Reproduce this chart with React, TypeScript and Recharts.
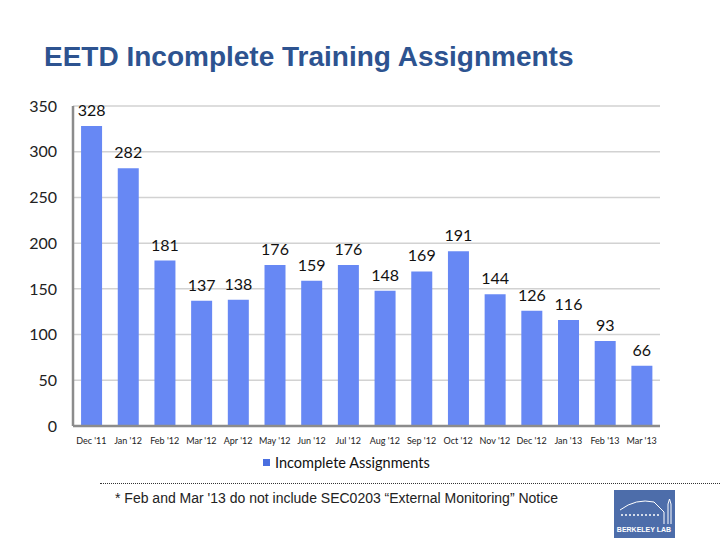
import React from "react";
import { BarChart, Bar, XAxis, YAxis, CartesianGrid, LabelList } from "recharts";

const months = ["Dec '11", "Jan '12", "Feb '12", "Mar '12", "Apr '12", "May '12", "Jun '12", "Jul '12", "Aug '12", "Sep '12", "Oct '12", "Nov '12", "Dec '12", "Jan '13", "Feb '13", "Mar '13"];
const incomplete = [328, 282, 181, 137, 138, 176, 159, 176, 148, 169, 191, 144, 126, 116, 93, 66];
const yTicks = [0, 50, 100, 150, 200, 250, 300, 350];

const data = months.map((m, i) => ({ month: m, value: incomplete[i] }));

const BAR = "#6788F4";
const FONT = "Lato, 'Open Sans', sans-serif";

export default function App() {
  return (
    <div style={{ position: "absolute", left: 0, top: 0, width: 720, height: 540, background: "#fff", overflow: "hidden" }}>
      <div style={{ position: "absolute", left: 44, top: 40, fontFamily: "'Liberation Sans', Arial, sans-serif", fontWeight: "bold", fontSize: 28, lineHeight: "34px", color: "#2D5390", whiteSpace: "nowrap" }}>
        EETD Incomplete Training Assignments
      </div>
      <div style={{ position: "absolute", left: 0, top: 0 }}>
        <BarChart width={720} height={540} data={data} margin={{ top: 106, right: 60, bottom: 94, left: 13 }} barCategoryGap="22%">
          <CartesianGrid vertical={false} stroke="#d2d2d2" strokeWidth={1.5} />
          <XAxis
            dataKey="month"
            height={20}
            tickLine={false}
            axisLine={{ stroke: "#8c8c8c", strokeWidth: 2.5 }}
            tick={{ fontSize: 9, fill: "#222", fontFamily: FONT }}
            interval={0}
            tickMargin={6}
          />
          <YAxis
            width={60}
            domain={[0, 350]}
            ticks={yTicks}
            tickLine={false}
            axisLine={{ stroke: "#8c8c8c", strokeWidth: 2.5 }}
            tick={{ fontSize: 16, fill: "#222", fontFamily: FONT }}
            tickMargin={10}
          />
          <Bar dataKey="value" fill={BAR} isAnimationActive={false}>
            <LabelList dataKey="value" position="top" offset={10} style={{ fontSize: 16, fill: "#111", fontFamily: FONT }} />
          </Bar>
        </BarChart>
      </div>
      <div style={{ position: "absolute", left: 263, top: 454, display: "flex", alignItems: "center", fontFamily: FONT, fontSize: 14.5, color: "#111", whiteSpace: "nowrap" }}>
        <span style={{ display: "inline-block", width: 7, height: 7, background: "#4A6FE0", marginRight: 5 }} />
        Incomplete Assignments
      </div>
      <div style={{ position: "absolute", left: 100, top: 483, width: 620, borderTop: "1px dotted #333" }} />
      <div style={{ position: "absolute", left: 115, top: 490, fontFamily: "'Liberation Sans', Arial, sans-serif", fontSize: 14, color: "#222", whiteSpace: "nowrap" }}>
        * Feb and Mar '13 do not include SEC0203 “External Monitoring” Notice
      </div>
      <svg style={{ position: "absolute", left: 614, top: 490 }} width={61} height={48}>
        <rect x={0} y={0} width={61} height={48} fill="#4D6DAA" />
        <path d="M6 20 Q22 8 40 12 L50 22" stroke="#fff" strokeWidth={1} fill="none" />
        <path d="M7 25 H45" stroke="#fff" strokeWidth={1.5} strokeDasharray="2 2" fill="none" />
        <path d="M50 22 V34 M54 14 V34 M57 14 V34 M54 14 L55.5 9 L57 14" stroke="#fff" strokeWidth={1} fill="none" />
        <text x={30} y={42} textAnchor="middle" fill="#fff" fontSize={7} fontWeight="bold" fontFamily="'Liberation Sans Narrow', 'Liberation Sans', sans-serif">BERKELEY LAB</text>
      </svg>
    </div>
  );
}
